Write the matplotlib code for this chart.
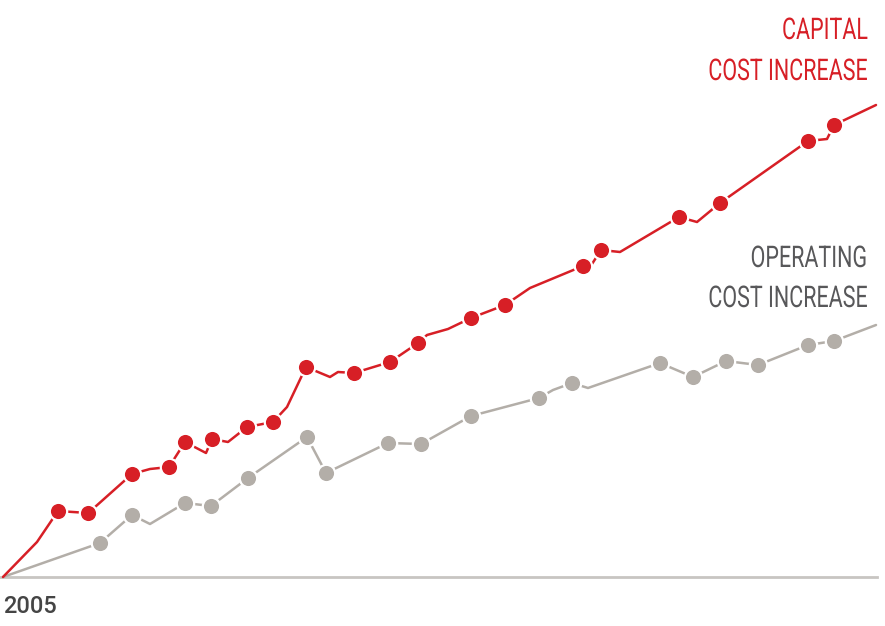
import matplotlib
matplotlib.use("Agg")
import matplotlib.pyplot as plt
from matplotlib import patheffects
from matplotlib.transforms import Affine2D

# vertices of the capital cost line (x = time position, y = increase above baseline)
cap_x = [3, 37, 58, 88, 95, 132, 150, 169, 185, 206, 212, 228, 247, 273, 287, 306,
         330, 338, 354, 390, 418, 427, 448, 471, 505, 530, 583, 592, 601, 620, 679,
         697, 720, 808, 827, 834, 876]
cap_y = [0, 35, 66, 64, 70, 103, 108, 110, 135, 124, 138, 135, 150, 155, 170, 210,
         200, 205, 204, 215, 234, 242, 248, 259, 272, 289, 311, 313, 327, 325, 360,
         355, 374, 436, 438, 452, 472]
cap_marks = [2, 3, 5, 7, 8, 10, 12, 13, 15, 18, 19, 20, 23, 24, 26, 28, 30, 32, 33, 35]

# vertices of the operating cost line
op_x = [3, 100, 132, 150, 185, 211, 248, 307, 326, 388, 421, 471, 539, 553, 572, 588,
        660, 693, 726, 758, 808, 834, 876]
op_y = [0, 34, 62, 53, 74, 71, 99, 140, 104, 134, 133, 161, 179, 187, 194, 189,
        214, 200, 216, 212, 232, 236, 252]
op_marks = [1, 2, 4, 5, 6, 7, 8, 9, 10, 11, 12, 14, 16, 17, 18, 19, 20, 21]

red = "#d71f26"
grey = "#b3aea8"
label_grey = "#58585a"


class Narrow(patheffects.AbstractPathEffect):
    # squeeze the text sideways around its right edge (condensed look)
    def __init__(self, factor):
        super().__init__()
        self.factor = factor

    def draw_path(self, renderer, gc, tpath, affine, rgbFace=None):
        w = tpath.get_extents().x1
        squeeze = Affine2D().translate(-w, 0).scale(self.factor, 1).translate(w, 0)
        renderer.draw_path(gc, tpath, squeeze + affine, rgbFace)


fig = plt.figure(figsize=(8.85, 6.26), dpi=100)
ax = fig.add_axes([0, 0, 1, 1])
ax.set_xlim(0, 885)
ax.set_ylim(-49, 577)
ax.axis("off")

ax.axhline(0, xmin=0, xmax=877 / 885, color="#c8c5c2", lw=2, zorder=1)

ax.plot(op_x, op_y, color=grey, lw=1.8, zorder=2, solid_capstyle="round")
ax.plot([op_x[i] for i in op_marks], [op_y[i] for i in op_marks], "o", ms=12.5,
        color=grey, mec="white", mew=1.6, zorder=3)

ax.plot(cap_x, cap_y, color=red, lw=1.8, zorder=4, solid_capstyle="round")
ax.plot([cap_x[i] for i in cap_marks], [cap_y[i] for i in cap_marks], "o", ms=12.5,
        color=red, mec="white", mew=1.6, zorder=5)

labels = [("CAPITAL", 39, red), ("COST INCREASE", 80, red),
          ("OPERATING", 267, label_grey), ("COST INCREASE", 307, label_grey)]
for txt, base, col in labels:
    ax.text(868, 577 - base, txt, color=col, fontsize=21.5,
            family=["Roboto", "DejaVu Sans"], ha="right", va="baseline",
            path_effects=[Narrow(0.72)])

ax.text(3, 577 - 613, "2005", color="#454545", fontsize=17, fontweight=500,
        family=["Roboto", "DejaVu Sans"], ha="left", va="baseline")

fig.savefig("out.png", dpi=100)
